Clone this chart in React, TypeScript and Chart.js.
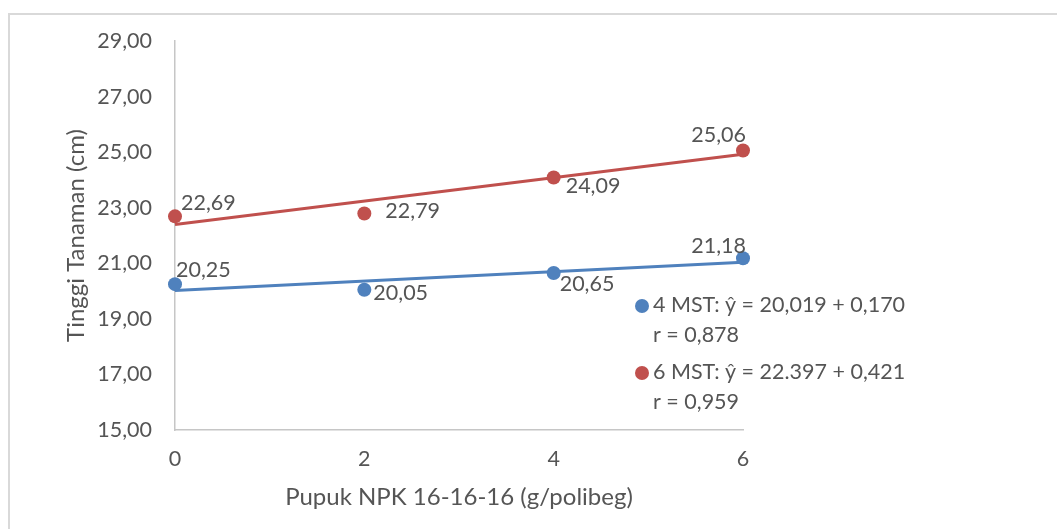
import React, { useEffect, useRef } from 'react';
import { Chart, registerables } from 'chart.js';

Chart.register(...registerables);

// ---- data ----
const xValues = [0, 2, 4, 6];
const mst4Values = [20.25, 20.05, 20.65, 21.18];
const mst6Values = [22.69, 22.79, 24.09, 25.06];
const seriesNames = ['4 MST', '6 MST'];
const trendIntercepts = [20.019, 22.397];
const trendSlopes = [0.17, 0.421];
const legendLines = [
  ['4 MST: ŷ = 20,019 + 0,170', 'r = 0,878'],
  ['6 MST: ŷ = 22.397 + 0,421', 'r = 0,959'],
];
const yAxisTitle = 'Tinggi Tanaman (cm)';
const xAxisTitle = 'Pupuk NPK 16-16-16 (g/polibeg)';
const yMin = 15;
const yMax = 29;
const yStep = 2;
const xMin = 0;
const xMax = 6;
const xStep = 2;

// ---- styling ----
const FONT = 'Lato, "Open Sans", "Noto Sans", sans-serif';
const FONT_SIZE = 21.5;
const TITLE_FONT_SIZE = 24;
const TEXT_COLOR = '#555555';
const BLUE = '#4f81bd';
const RED = '#c0504d';
const AXIS_COLOR = '#c6c6c6';
const seriesColors = [BLUE, RED];
// label placement per point: [dx, dy, align]
const labelPlacement = [
  [[1, -14, 'left'], [9, 3.5, 'left'], [6, 11, 'left'], [3, -12.5, 'right']],
  [[6, -13.5, 'left'], [21, -2, 'left'], [12, 8.5, 'left'], [3, -15.5, 'right']],
];

const fmt = (v: number) => v.toFixed(2).replace('.', ',');

const chartDecor = {
  id: 'chartDecor',
  beforeDraw(chart: any) {
    const { ctx, width, height } = chart;
    ctx.save();
    ctx.fillStyle = '#ffffff';
    ctx.fillRect(0, 0, width, height);
    ctx.strokeStyle = '#d9d9d9';
    ctx.lineWidth = 2;
    ctx.strokeRect(9, 14, width + 50, height + 50);
    ctx.restore();
  },
  afterDraw(chart: any) {
    const { ctx, chartArea } = chart;
    ctx.save();
    ctx.font = `${FONT_SIZE}px ${FONT}`;
    ctx.fillStyle = TEXT_COLOR;
    // data labels
    [0, 1].forEach((si) => {
      const meta = chart.getDatasetMeta(si);
      const values = si === 0 ? mst4Values : mst6Values;
      meta.data.forEach((pt: any, i: number) => {
        const [dx, dy, align] = labelPlacement[si][i] as [number, number, string];
        ctx.textAlign = align as CanvasTextAlign;
        ctx.textBaseline = 'middle';
        ctx.fillText(fmt(values[i]), pt.x + dx, pt.y + dy);
      });
    });
    // legend
    const legendX = chartArea.right - 101;
    const legendY = [305, 372];
    legendLines.forEach((lines, li) => {
      ctx.beginPath();
      ctx.fillStyle = seriesColors[li];
      ctx.arc(legendX, legendY[li] + 1, 7, 0, Math.PI * 2);
      ctx.fill();
      ctx.fillStyle = TEXT_COLOR;
      ctx.textAlign = 'left';
      ctx.textBaseline = 'middle';
      lines.forEach((t, k) => {
        ctx.fillText(t, legendX + 11, legendY[li] + k * 30);
      });
    });
    // axis titles
    ctx.font = `${TITLE_FONT_SIZE}px ${FONT}`;
    ctx.fillStyle = TEXT_COLOR;
    ctx.textAlign = 'center';
    ctx.textBaseline = 'middle';
    ctx.fillText(xAxisTitle, (chartArea.left + chartArea.right) / 2, 497);
    ctx.save();
    ctx.translate(76, (chartArea.top + chartArea.bottom) / 2);
    ctx.rotate(-Math.PI / 2);
    ctx.fillText(yAxisTitle, 0, 0);
    ctx.restore();
    ctx.restore();
  },
};

export default function App() {
  const canvasRef = useRef<HTMLCanvasElement | null>(null);

  useEffect(() => {
    if (!canvasRef.current) return;
    const trend = (k: number) => [
      { x: xMin, y: trendIntercepts[k] + trendSlopes[k] * xMin },
      { x: xMax, y: trendIntercepts[k] + trendSlopes[k] * xMax },
    ];
    const chart = new Chart(canvasRef.current, {
      type: 'scatter',
      data: {
        datasets: [
          {
            label: seriesNames[0],
            data: xValues.map((x, i) => ({ x, y: mst4Values[i] })),
            backgroundColor: BLUE,
            borderColor: BLUE,
            pointRadius: 7,
            pointBorderWidth: 0,
            order: 0,
            clip: false,
          },
          {
            label: seriesNames[1],
            data: xValues.map((x, i) => ({ x, y: mst6Values[i] })),
            backgroundColor: RED,
            borderColor: RED,
            pointRadius: 7,
            pointBorderWidth: 0,
            order: 0,
            clip: false,
          },
          {
            type: 'line',
            label: seriesNames[0] + ' trend',
            data: trend(0),
            borderColor: BLUE,
            borderWidth: 3,
            pointRadius: 0,
            showLine: true,
            order: 1,
            clip: false,
          } as any,
          {
            type: 'line',
            label: seriesNames[1] + ' trend',
            data: trend(1),
            borderColor: RED,
            borderWidth: 3,
            pointRadius: 0,
            showLine: true,
            order: 1,
            clip: false,
          } as any,
        ],
      },
      options: {
        responsive: false,
        animation: false,
        devicePixelRatio: 1,
        layout: { padding: { top: 41, right: 314, bottom: 0, left: 0 } },
        plugins: {
          legend: { display: false },
          tooltip: { enabled: false },
          title: { display: false },
        },
        scales: {
          x: {
            type: 'linear',
            min: xMin,
            max: xMax,
            ticks: {
              stepSize: xStep,
              color: TEXT_COLOR,
              font: { family: FONT, size: FONT_SIZE },
              padding: 16,
            },
            grid: { drawOnChartArea: false, drawTicks: false, tickLength: 0 },
            border: { display: true, color: AXIS_COLOR, width: 1.5 },
            afterFit: (scale: any) => {
              scale.height = 99;
            },
          },
          y: {
            type: 'linear',
            min: yMin,
            max: yMax,
            ticks: {
              stepSize: yStep,
              color: TEXT_COLOR,
              font: { family: FONT, size: FONT_SIZE },
              padding: 23,
              callback: (v: any) => fmt(Number(v)),
            },
            grid: { drawOnChartArea: false, drawTicks: false, tickLength: 0 },
            border: { display: true, color: AXIS_COLOR, width: 1.5 },
            afterFit: (scale: any) => {
              scale.width = 175;
            },
          },
        },
      },
      plugins: [chartDecor],
    });
    return () => chart.destroy();
  }, []);

  return (
    <canvas
      ref={canvasRef}
      width={1057}
      height={529}
      style={{ position: 'fixed', left: 0, top: 0, width: 1057, height: 529 }}
    />
  );
}
